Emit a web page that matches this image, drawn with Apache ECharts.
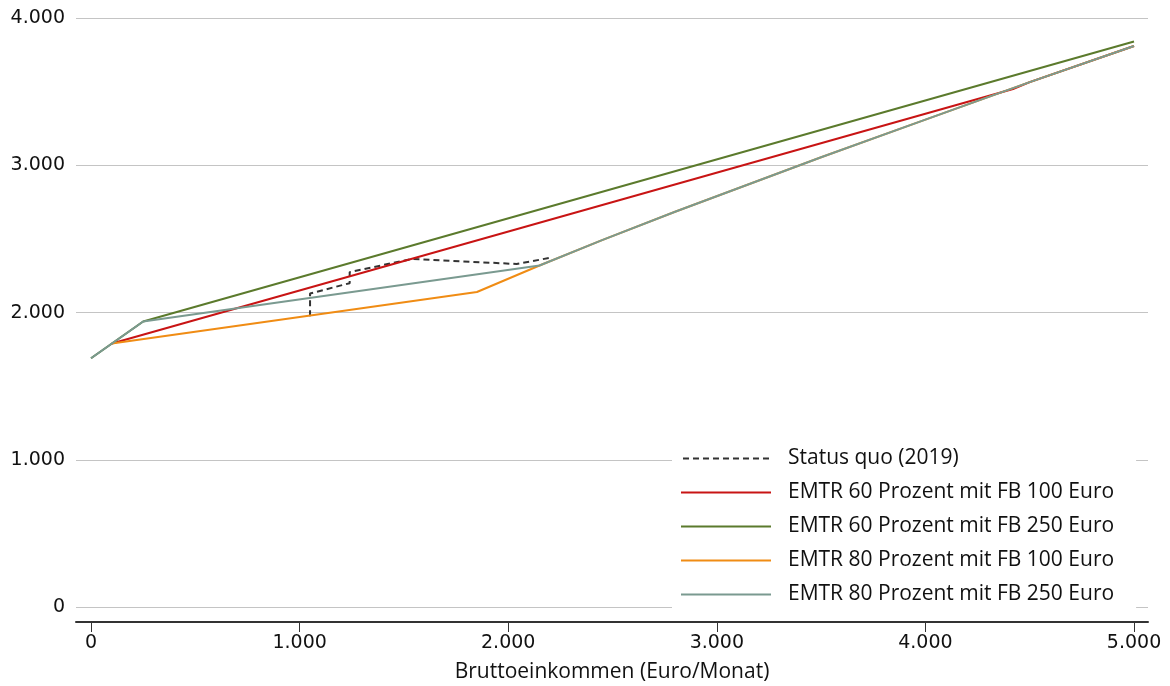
<!DOCTYPE html>
<html>
<head>
<meta charset="utf-8">
<script src="https://cdn.jsdelivr.net/npm/echarts@6/dist/echarts.min.js"></script>
<style>html,body{margin:0;padding:0;background:#fff}#c{width:1170px;height:686px}</style>
</head>
<body>
<div id="c"></div>
<script>
// Gross income (Euro/month) vs. net household income
var seriesNames = [
  'Status quo (2019)',
  'EMTR 60 Prozent mit FB 100 Euro',
  'EMTR 60 Prozent mit FB 250 Euro',
  'EMTR 80 Prozent mit FB 100 Euro',
  'EMTR 80 Prozent mit FB 250 Euro'
];
var statusQuo = [[1050,1975],[1050,2130],[1240,2200],[1240,2275],[1540,2365],[2040,2330],[2200,2372]];
var emtr60fb100 = [[100,1790],[4420,3518],[4500,3565],[5000,3810]];
var emtr60fb250 = [[0,1690],[250,1940],[5000,3840]];
var emtr80fb100 = [[100,1790],[1850,2140],[2150,2320],[2450,2492],[2800,2685],[3500,3055],[4000,3310],[4500,3565],[5000,3810]];
var emtr80fb250 = [[0,1690],[250,1940],[2150,2320],[2450,2492],[2800,2685],[3500,3055],[4000,3310],[4500,3565],[5000,3810]];
var xTicks = [0,1000,2000,3000,4000,5000];
var yTicks = [0,1000,2000,3000,4000];
var colors = ['#333333','#c81414','#5b7a2c','#f08c14','#7a9a90'];

function fmt(v){ return v === 0 ? '0' : (v/1000).toFixed(0) + '.000'; }

var solidIcon = 'path://M0,0H90V2H0Z';
var dashedIcon = 'path://' + [0,10,20,30,40,50,60,70,80].map(function(s){ return 'M' + s + ',0h6v2h-6z'; }).join(' ');

var dataSets = [statusQuo, emtr60fb100, emtr60fb250, emtr80fb100, emtr80fb250];
var series = dataSets.map(function(d, i){
  return {
    name: seriesNames[i],
    type: 'line',
    data: d,
    symbol: 'none',
    silent: true,
    animation: false,
    lineStyle: { color: colors[i], width: 2, type: i === 0 ? [6,4] : 'solid' },
    itemStyle: { color: colors[i] },
    z: 2 + i
  };
});

var chart = echarts.init(document.getElementById('c'));
chart.setOption({
  animation: false,
  backgroundColor: '#fff',
  grid: { left: 76, right: 22, top: 18, bottom: 64, containLabel: false, outerBoundsMode: 'none' },
  xAxis: {
    type: 'value', min: -72, max: 5067,
    name: 'Bruttoeinkommen (Euro/Monat)', nameLocation: 'middle', nameGap: 40,
    nameTextStyle: { fontFamily: 'Open Sans', fontSize: 21, color: '#111' },
    axisLine: { show: true, onZero: false, lineStyle: { color: '#333', width: 2 } },
    axisTick: { show: true, length: 10, customValues: xTicks, lineStyle: { color: '#333', width: 1 } },
    axisLabel: { customValues: xTicks, formatter: fmt, margin: 12, fontFamily: 'DejaVu Sans', fontSize: 19, color: '#111' },
    splitLine: { show: false }
  },
  yAxis: {
    type: 'value', min: -100, max: 4000,
    axisLine: { show: false },
    axisTick: { show: false, customValues: yTicks },
    axisLabel: { customValues: yTicks, formatter: fmt, margin: 11, fontFamily: 'DejaVu Sans', fontSize: 19, color: '#111' },
    splitLine: { show: true, lineStyle: { color: '#c4c4c4', width: 1 } }
  },
  legend: {
    orient: 'vertical', left: 672, top: 440,
    padding: [8, 22, 10, 9],
    backgroundColor: '#ffffff',
    itemWidth: 90, itemHeight: 2, itemGap: 13,
    selectedMode: false,
    textStyle: { fontFamily: 'Open Sans', fontSize: 21, lineHeight: 20, color: '#111', padding: [0,0,0,12] },
    data: seriesNames.map(function(n, i){
      return { name: n, icon: i === 0 ? dashedIcon : solidIcon, itemStyle: { color: colors[i], borderWidth: 0 } };
    })
  },
  series: series
});
</script>
</body>
</html>
